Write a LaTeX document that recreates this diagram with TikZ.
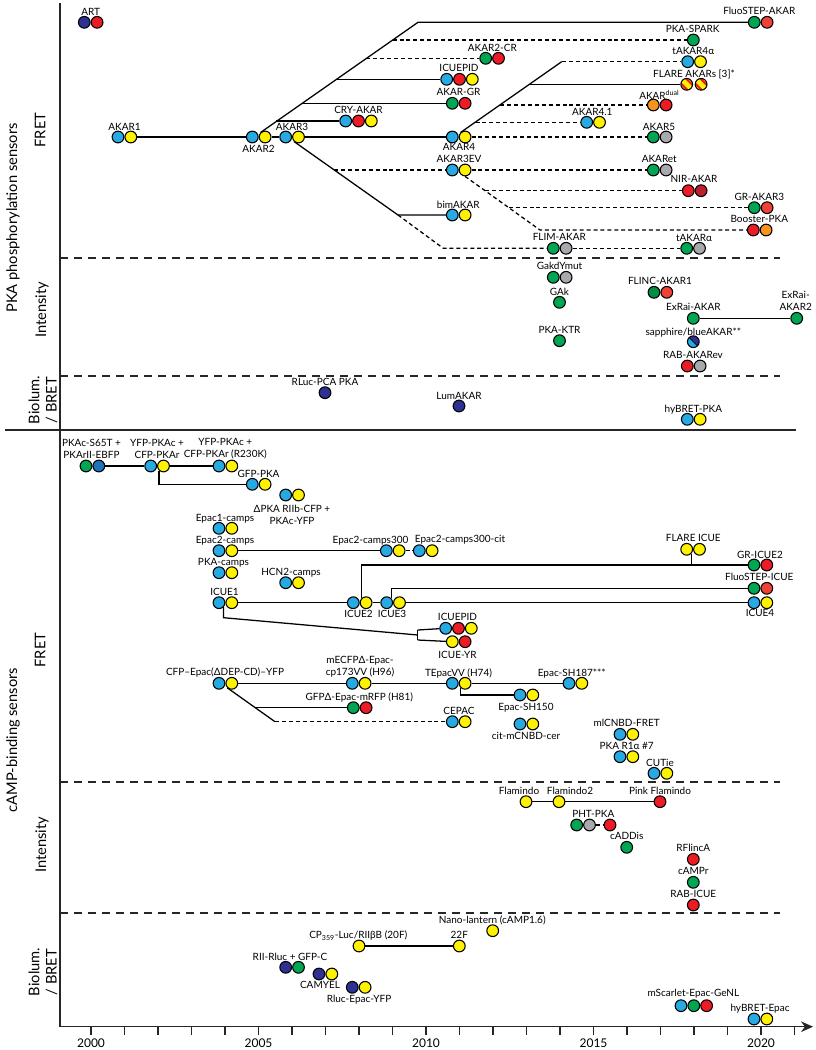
\documentclass[tikz,border=0pt]{standalone}
\usepackage{fontspec}
\setmainfont{Lato}
\usetikzlibrary{positioning,arrows.meta}

\definecolor{cfpc}{HTML}{27AAE1}
\definecolor{yfpc}{HTML}{FFF200}
\definecolor{rfpc}{HTML}{ED1C24}
\definecolor{gfpc}{HTML}{00A651}
\definecolor{dkgc}{HTML}{008C44}
\definecolor{lucc}{HTML}{2E3192}
\definecolor{dkfpc}{HTML}{A7A9AC}
\definecolor{ofpc}{HTML}{F7941D}
\definecolor{sfpc}{HTML}{EF4136}
\definecolor{mfpc}{HTML}{BE1E2D}
\definecolor{bfpc}{HTML}{1C75BC}

\begin{document}
\begin{tikzpicture}[
  x=0.75pt, y=-0.75pt,
  fp/.style={circle,draw,line width=0.8pt,minimum size=8.8pt,inner sep=0pt},
  cfp/.style={fp,fill=cfpc},
  yfp/.style={fp,fill=yfpc},
  rfp/.style={fp,fill=rfpc},
  gfp/.style={fp,fill=gfpc},
  dgfp/.style={fp,fill=dkgc},
  luc/.style={fp,fill=lucc},
  dkfp/.style={fp,fill=dkfpc},
  ofp/.style={fp,fill=ofpc},
  sfp/.style={fp,fill=sfpc},
  mfp/.style={fp,fill=mfpc},
  bfp/.style={fp,fill=bfpc},
  flare/.style={fp,fill=yfpc,path picture={
    \draw[rfpc,line width=1.5pt] ([shift={(1.9pt,1.9pt)}]path picture bounding box.north west) -- ([shift={(1.9pt,1.9pt)}]path picture bounding box.south east);
    \draw[rfpc,line width=1.5pt] ([shift={(-1.9pt,-1.9pt)}]path picture bounding box.north west) -- ([shift={(-1.9pt,-1.9pt)}]path picture bounding box.south east);}},
  sapph/.style={fp,fill=cfpc,path picture={
    \fill[lucc] (path picture bounding box.north west) -- (path picture bounding box.north east) -- (path picture bounding box.south east) -- cycle;
    \draw[line width=0.6pt] (path picture bounding box.north west) -- (path picture bounding box.south east);}},
  lbl/.style={font=\fontsize{7.5}{9}\selectfont,inner sep=0pt,text height=5.4pt,text depth=0pt},
  lbltwo/.style={font=\fontsize{7.5}{9}\selectfont,inner sep=0pt,align=center},
  cat/.style={font=\fontsize{11}{13}\selectfont,rotate=90,inner sep=0pt,align=center},
  yrlbl/.style={font=\fontsize{9}{10}\selectfont,inner sep=0pt},
  link/.style={line width=0.95pt},
  dlink/.style={link,dash pattern=on 3pt off 2.2pt},
  sep/.style={line width=0.9pt,black!85,dash pattern=on 6pt off 4.5pt},
  axis/.style={line width=0.9pt,black!85}
]
  \fill[white] (0,0) rectangle (816,1050);
  \useasboundingbox (0,0) rectangle (816,1050);

  % frame and time axis
  \coordinate (ytop) at (60,3);
  \coordinate (origin) at (60,1026.7);
  \coordinate (xend) at (813,1026.7);
  \draw[axis] (ytop) -- (origin);
  \draw[axis,-{Stealth[length=9pt,width=8pt]}] (origin) -- (xend);
  \foreach \i in {0,...,21}
    \draw[axis] ({91+\i*33.5},1026.7) -- ++(0,8);
  \foreach \yr in {2000,2005,2010,2015,2020}
    \node[yrlbl] (yr\yr) at ({91+(\yr-2000)*33.5},1043) {\yr};

  % section dividers
  \draw[sep] (60,258) -- (780,258);
  \draw[sep] (60,376) -- (780,376);
  \draw[axis] (5,430) -- (796,430);
  \draw[sep] (60,782) -- (780,782);
  \draw[sep] (60,913) -- (780,913);

  % category labels
  \node[cat] (pkacat) at (13,218) {PKA phosphorylation sensors};
  \node[cat] (pkafret) at (40,130) {FRET};
  \node[cat] (pkaint) at (42,310) {Intensity};
  \node[cat] (pkabio) at (43,400) {Biolum.\\/ BRET};
  \node[cat] (campcat) at (13,740) {cAMP-binding sensors};
  \node[cat] (campfret) at (40,650) {FRET};
  \node[cat] (campint) at (42,845) {Intensity};
  \node[cat] (campbio) at (43,972) {Biolum.\\/ BRET};

  % ---------------- PKA phosphorylation: FRET ----------------
  \node[luc] (art1) at (84.3,22.3) {};
  \node[rfp,right=0pt of art1] (art2) {};
  \node[lbl] (artt) at (90.7,11.5) {ART};

  \node[cfp] (akar1a) at (118,137) {};
  \node[yfp,right=0pt of akar1a] (akar1b) {};
  \node[lbl] (akar1t) at (124.5,126.5) {AKAR1};

  \node[cfp] (akar2a) at (252.3,137) {};
  \node[yfp,right=0pt of akar2a] (akar2b) {};
  \node[lbl] (akar2t) at (258.5,148.7) {AKAR2};

  \node[cfp] (akar3a) at (285.7,137) {};
  \node[yfp,right=0pt of akar3a] (akar3b) {};
  \node[lbl] (akar3t) at (292,126.5) {AKAR3};

  \node[cfp] (cry1) at (345.7,121) {};
  \node[rfp,right=0pt of cry1] (cry2) {};
  \node[yfp,right=0pt of cry2] (cry3) {};
  \node[lbl] (cryt) at (358.5,110) {CRY-AKAR};

  \node[gfp] (akgr1) at (452.3,103.3) {};
  \node[rfp,right=0pt of akgr1] (akgr2) {};
  \node[lbl] (akgrt) at (458.5,92.3) {AKAR-GR};

  \node[cfp] (icpid1) at (446.7,79.3) {};
  \node[rfp,right=0pt of icpid1] (icpid2) {};
  \node[yfp,right=0pt of icpid2] (icpid3) {};
  \node[lbl] (icpidt) at (459,67.7) {ICUEPID};

  \node[gfp] (akcr1) at (485.7,58.3) {};
  \node[rfp,right=0pt of akcr1] (akcr2) {};
  \node[lbl] (akcrt) at (492.3,48.3) {AKAR2-CR};

  \node[gfp] (spark) at (693.3,40) {};
  \node[lbl] (sparkt) at (692.7,29) {PKA-SPARK};

  \node[gfp] (fstep1) at (754.3,22.3) {};
  \node[sfp,right=0pt of fstep1] (fstep2) {};
  \node[lbl] (fstept) at (759.3,10.7) {FluoSTEP-AKAR};

  \node[cfp] (akar4a) at (452.3,137) {};
  \node[yfp,right=0pt of akar4a] (akar4b) {};
  \node[lbl] (akar4t) at (459,146.7) {AKAR4};

  \node[cfp] (ak3ev1) at (452.3,170) {};
  \node[yfp,right=0pt of ak3ev1] (ak3ev2) {};
  \node[lbl] (ak3evt) at (459,159.3) {AKAR3EV};

  \node[cfp] (bim1) at (452.3,215) {};
  \node[yfp,right=0pt of bim1] (bim2) {};
  \node[lbl] (bimt) at (458.3,205) {bimAKAR};

  \node[cfp] (tak4a1) at (687.7,61.7) {};
  \node[yfp,right=0pt of tak4a1] (tak4a2) {};
  \node[lbl] (tak4at) at (693.3,51) {tAKAR4α};

  \node[flare] (flare1) at (686.7,84.3) {};
  \node[flare,right=1.2pt of flare1] (flare2) {};
  \node[lbl] (flaret) at (694,74) {FLARE AKARs [3]*};

  \node[ofp] (akdual1) at (653.3,105) {};
  \node[rfp,right=0pt of akdual1] (akdual2) {};
  \node[lbl] (akdualt) at (659.3,95.7) {AKAR\textsuperscript{dual}};

  \node[cfp] (ak41a) at (586.7,122.3) {};
  \node[yfp,right=0pt of ak41a] (ak41b) {};
  \node[lbl] (ak41t) at (592.3,111.7) {AKAR4.1};

  \node[gfp] (akar5a) at (653.3,137) {};
  \node[dkfp,right=0pt of akar5a] (akar5b) {};
  \node[lbl] (akar5t) at (659,126.7) {AKAR5};

  \node[gfp] (aket1) at (653.3,170) {};
  \node[dkfp,right=0pt of aket1] (aket2) {};
  \node[lbl] (akett) at (659.3,159.3) {AKARet};

  \node[rfp] (nir1) at (688.3,190.7) {};
  \node[mfp,right=0pt of nir1] (nir2) {};
  \node[lbl] (nirt) at (694,179) {NIR-AKAR};

  \node[gfp] (grak31) at (754.3,207.7) {};
  \node[sfp,right=0pt of grak31] (grak32) {};
  \node[lbl] (grak3t) at (759.3,197.3) {GR-AKAR3};

  \node[rfp] (boost1) at (753.3,230) {};
  \node[ofp,right=0pt of boost1] (boost2) {};
  \node[lbl] (boostt) at (759.3,219.3) {Booster-PKA};

  \node[gfp] (flim1) at (553.3,248.3) {};
  \node[dkfp,right=0pt of flim1] (flim2) {};
  \node[lbl] (flimt) at (559.3,237.3) {FLIM-AKAR};

  \node[gfp] (takar1) at (686.7,248.3) {};
  \node[dkfp,right=0pt of takar1] (takar2) {};
  \node[lbl] (takart) at (694,238.3) {tAKARα};

  % lineage
  \draw[link] (akar1b) -- (akar2a);
  \draw[link] (akar2b) -- (akar3a);
  \draw[link] (akar3b) -- (akar4a);

  \coordinate (k1) at (276.1,121);
  \coordinate (k2) at (301.5,103.3);
  \coordinate (k3) at (336.1,79.3);
  \coordinate (k4) at (366.3,58.3);
  \coordinate (k5) at (392.6,40);
  \coordinate (k6) at (418,22.3);
  \draw[link] (akar2b.north west) -- (k6) -- (fstep1);
  \draw[link] (k1) -- (cry1);
  \draw[link] (k2) -- (akgr1);
  \draw[link] (k3) -- (icpid1);
  \draw[dlink] (k4) -- (akcr1);
  \draw[dlink] (k5) -- (spark);

  \coordinate (m0) at (334,170);
  \coordinate (m1) at (398,215);
  \coordinate (m2) at (443.3,248.3);
  \draw[link] (akar3b.south west) -- (m1) -- (bim1);
  \draw[dlink] (m0) -- (ak3ev1);
  \draw[dlink] (m1) -- (m2) -- (flim1);
  \draw[dlink] (flim2) -- (takar1);

  \coordinate (n1) at (475.5,122.3);
  \coordinate (n2) at (500.1,105);
  \coordinate (n3) at (529.5,84.3);
  \coordinate (n4) at (561.7,61.7);
  \draw[link] (akar4b.north west) -- (n4);
  \draw[dlink] (n4) -- (tak4a1);
  \draw[dlink] (n1) -- (ak41a);
  \draw[dlink] (n2) -- (akdual1);
  \draw[link] (n3) -- (flare1);
  \draw[dlink] (akar4b) -- (akar5a);

  \coordinate (q1) at (484.9,190.7);
  \coordinate (q2) at (508.7,207.7);
  \coordinate (q3) at (540,230);
  \draw[dlink] (ak3ev2) -- (aket1);
  \draw[dlink] (ak3ev2.south) -- (q3) -- (boost1);
  \draw[dlink] (q1) -- (nir1);
  \draw[dlink] (q2) -- (grak31);

  % ---------------- PKA phosphorylation: intensity ----------------
  \node[gfp] (gakd1) at (553.3,277.3) {};
  \node[dkfp,right=0pt of gakd1] (gakd2) {};
  \node[lbl] (gakdt) at (559.5,265.7) {GakdYmut};

  \node[gfp] (gak) at (559.5,302.3) {};
  \node[lbl] (gakt) at (559.5,291.7) {GAk};

  \node[gfp] (ktr) at (559.5,340.7) {};
  \node[lbl] (ktrt) at (559.5,330) {PKA-KTR};

  \node[dgfp] (flinc1) at (654,292.3) {};
  \node[sfp,right=0pt of flinc1] (flinc2) {};
  \node[lbl] (flinct) at (660,281) {FLINC-AKAR1};

  \node[gfp] (exrai) at (693.3,318.3) {};
  \node[lbl] (exrait) at (693.3,306.7) {ExRai-AKAR};
  \node[gfp] (exrai2) at (796.7,318.3) {};
  \node[lbltwo] (exrai2t) at (795.7,300.5) {ExRai-\\AKAR2};
  \draw[link] (exrai) -- (exrai2);

  \node[sapph] (sapph) at (693.3,341.7) {};
  \node[lbl] (sappht) at (693.3,331.5) {sapphire/blueAKAR**};

  \node[rfp] (rabak1) at (687.3,366) {};
  \node[dkfp,right=0pt of rabak1] (rabak2) {};
  \node[lbl] (rabakt) at (693,355) {RAB-AKARev};

  % ---------------- PKA phosphorylation: bioluminescence ----------------
  \node[luc] (rlucpca) at (325,392.7) {};
  \node[lbl] (rlucpcat) at (325,381.7) {RLuc-PCA PKA};

  \node[luc] (lumakar) at (459,406) {};
  \node[lbl] (lumakart) at (459,395.7) {LumAKAR};

  \node[cfp] (hybp1) at (687.3,419.3) {};
  \node[yfp,right=0pt of hybp1] (hybp2) {};
  \node[lbl] (hybpt) at (693.3,408.7) {hyBRET-PKA};

  % ---------------- cAMP binding: FRET ----------------
  \node[gfp] (s65a) at (86,466) {};
  \node[bfp,right=0pt of s65a] (s65b) {};
  \node[lbltwo] (s65t) at (91.5,448.5) {PKAc-S65T +\\PKArII-EBFP};

  \node[cfp] (ypka1) at (150.7,466) {};
  \node[yfp,right=0pt of ypka1] (ypka2) {};
  \node[lbltwo] (ypkat) at (157,448.5) {YFP-PKAc +\\CFP-PKAr};

  \node[cfp] (ypkm1) at (219,466) {};
  \node[yfp,right=0pt of ypkm1] (ypkm2) {};
  \node[lbltwo] (ypkmt) at (225.3,448.5) {YFP-PKAc +\\CFP-PKAr (R230K)};

  \node[cfp] (gpka1) at (252.3,484.3) {};
  \node[yfp,right=0pt of gpka1] (gpka2) {};
  \node[lbl] (gpkat) at (258.5,474.3) {GFP-PKA};

  \node[cfp] (dpka1) at (285.7,495) {};
  \node[yfp,right=0pt of dpka1] (dpka2) {};
  \node[lbltwo] (dpkat) at (292,514.7) {ΔPKA RIIb-CFP +\\PKAc-YFP};

  \draw[link] (s65b) -- (ypka1);
  \draw[link] (ypka2) -- (ypkm1);
  \draw[link] (ypka2.south west) |- (gpka1);

  \node[cfp] (ep1a) at (219,528.3) {};
  \node[yfp,right=0pt of ep1a] (ep1b) {};
  \node[lbl] (ep1t) at (225,518.3) {Epac1-camps};

  \node[cfp] (ep2a) at (219,550.7) {};
  \node[yfp,right=0pt of ep2a] (ep2b) {};
  \node[lbl] (ep2t) at (225,540) {Epac2-camps};

  \node[cfp] (ep300a) at (386.3,550.7) {};
  \node[yfp,right=0pt of ep300a] (ep300b) {};
  \node[lbl] (ep300t) at (370.5,540) {Epac2-camps300};

  \node[cfp] (epcit1) at (419.3,550.7) {};
  \node[yfp,right=0pt of epcit1] (epcit2) {};
  \node[lbl] (epcitt) at (460,539.3) {Epac2-camps300-cit};

  \draw[link] (ep2b) -- (ep300a);
  \draw[dlink] (ep300b) -- (epcit1);

  \node[cfp] (pkcamp1) at (219,572.7) {};
  \node[yfp,right=0pt of pkcamp1] (pkcamp2) {};
  \node[lbl] (pkcampt) at (223.5,561.7) {PKA-camps};

  \node[cfp] (hcn1) at (285.7,582.7) {};
  \node[yfp,right=0pt of hcn1] (hcn2) {};
  \node[lbl] (hcnt) at (291,571.7) {HCN2-camps};

  \node[cfp] (icue1a) at (219,602.7) {};
  \node[yfp,right=0pt of icue1a] (icue1b) {};
  \node[lbl] (icue1t) at (224.5,592.3) {ICUE1};

  \node[cfp] (icue2a) at (353.3,602.7) {};
  \node[yfp,right=0pt of icue2a] (icue2b) {};
  \node[lbl] (icue2t) at (358.5,614.3) {ICUE2};

  \node[cfp] (icue3a) at (386.7,602.7) {};
  \node[yfp,right=0pt of icue3a] (icue3b) {};
  \node[lbl] (icue3t) at (392,614.3) {ICUE3};

  \node[cfp] (icue4a) at (754,602.7) {};
  \node[yfp,right=0pt of icue4a] (icue4b) {};
  \node[lbl] (icue4t) at (760,613.3) {ICUE4};

  \node[gfp] (gricue1) at (754,565) {};
  \node[rfp,right=0pt of gricue1] (gricue2) {};
  \node[lbl] (gricuet) at (760,555) {GR-ICUE2};

  \node[yfp] (ficue1) at (686.7,549.3) {};
  \node[yfp,right=0pt of ficue1] (ficue2) {};
  \node[lbl] (ficuet) at (693.3,538.3) {FLARE ICUE};

  \node[gfp] (fsicue1) at (754,588.3) {};
  \node[sfp,right=0pt of fsicue1] (fsicue2) {};
  \node[lbl] (fsicuet) at (759.3,577.3) {FluoSTEP-ICUE};

  \node[cfp] (cpid1) at (445.7,628.3) {};
  \node[rfp,right=0pt of cpid1] (cpid2) {};
  \node[yfp,right=0pt of cpid2] (cpid3) {};
  \node[lbl] (cpidt) at (457.5,616.7) {ICUEPID};

  \node[yfp] (icyr1) at (452.3,641.7) {};
  \node[rfp,right=0pt of icyr1] (icyr2) {};
  \node[lbl] (icyrt) at (457.5,655) {ICUE-YR};

  \draw[link] (icue1b) -- (icue2a);
  \draw[link] (icue2b) -- (icue3a);
  \draw[link] (icue3b) -- (icue4a);
  \draw[link] (icue2b.north west) |- (gricue1);
  \draw[link] (ficue1.south east) -- (ficue1.south east |- gricue1);
  \draw[link] (icue3a.north east) |- (fsicue1);

  \coordinate (f0) at (223.6,617.7);
  \coordinate (f1) at (417.7,635);
  \coordinate (f2) at (417.7,630);
  \coordinate (f3) at (417.7,640);
  \draw[link] (icue1a.south east) |- (f0) -- (f1);
  \draw[link] (f2) -- (f3);
  \draw[link] (f2) -- (cpid1);
  \draw[link] (f3) -- (icyr1);

  \node[cfp] (cfpep1) at (219,683.3) {};
  \node[yfp,right=0pt of cfpep1] (cfpep2) {};
  \node[lbl] (cfpept) at (225,671.7) {CFP–Epac(ΔDEP-CD)–YFP};

  \node[cfp] (mecfp1) at (352.3,683.3) {};
  \node[yfp,right=0pt of mecfp1] (mecfp2) {};
  \node[lbltwo] (mecfpt) at (360,666.5) {mECFPΔ-Epac-\\cp173VV (H96)};

  \node[cfp] (tepac1) at (452.3,683.3) {};
  \node[yfp,right=0pt of tepac1] (tepac2) {};
  \node[lbl] (tepact) at (458.5,673.3) {TEpacVV (H74)};

  \node[cfp] (sh187a) at (569,683.3) {};
  \node[yfp,right=0pt of sh187a] (sh187b) {};
  \node[lbl] (sh187t) at (571.7,673.3) {Epac-SH187***};

  \node[cfp] (sh150a) at (520,695) {};
  \node[yfp,right=0pt of sh150a] (sh150b) {};
  \node[lbl] (sh150t) at (526,706.7) {Epac-SH150};

  \node[gfp] (gdep1) at (353.3,707.7) {};
  \node[rfp,right=0pt of gdep1] (gdep2) {};
  \node[lbl] (gdept) at (359.3,697.3) {GFPΔ-Epac-mRFP (H81)};

  \node[cfp] (cepac1) at (452.3,721.7) {};
  \node[yfp,right=0pt of cepac1] (cepac2) {};
  \node[lbl] (cepact) at (459,711) {CEPAC};

  \draw[link] (cfpep2) -- (mecfp1);
  \draw[link] (mecfp2) -- (tepac1);
  \draw[link] (tepac2) -- (sh187a);
  \draw[link] (tepac2.south west) |- (sh150a);

  \coordinate (g1) at (254.9,707.7);
  \coordinate (g2) at (275,721.7);
  \draw[link] (cfpep2.south west) -- (g2);
  \draw[dlink] (g2) -- (cepac1);
  \draw[link] (g1) -- (gdep1);

  \node[cfp] (citm1) at (520,724) {};
  \node[yfp,right=0pt of citm1] (citm2) {};
  \node[lbl] (citmt) at (526,736) {cit-mCNBD-cer};

  \node[cfp] (mlcn1) at (620,734.3) {};
  \node[yfp,right=0pt of mlcn1] (mlcn2) {};
  \node[lbl] (mlcnt) at (626.7,723.3) {mlCNBD-FRET};

  \node[cfp] (r1a1) at (620,756.7) {};
  \node[yfp,right=0pt of r1a1] (r1a2) {};
  \node[lbl] (r1at) at (626.7,746) {PKA R1α \#7};

  \node[cfp] (cutie1) at (654,773.3) {};
  \node[yfp,right=0pt of cutie1] (cutie2) {};
  \node[lbl] (cutiet) at (660,763.3) {CUTie};

  % ---------------- cAMP binding: intensity ----------------
  \node[yfp] (flam) at (526,801.7) {};
  \node[lbl] (flamt) at (519,790.7) {Flamindo};
  \node[yfp] (flam2) at (559,801.7) {};
  \node[lbl] (flam2t) at (570,790.7) {Flamindo2};
  \node[rfp] (pflam) at (660,801.7) {};
  \node[lbl] (pflamt) at (660,790.7) {Pink Flamindo};
  \draw[link] (flam) -- (flam2);
  \draw[link] (flam2) -- (pflam);

  \node[gfp] (pht1) at (576.7,825) {};
  \node[dkfp,right=0pt of pht1] (pht2) {};
  \node[rfp] (pht3) at (610,825) {};
  \node[lbl] (phtt) at (593.3,814.3) {PHT-PKA};
  \draw[dlink] (pht2) -- (pht3);

  \node[gfp] (caddis) at (626.7,847.3) {};
  \node[lbl] (caddist) at (626.7,836) {cADDis};

  \node[rfp] (rflinca) at (693.3,859.3) {};
  \node[lbl] (rflincat) at (693.3,848.3) {RFlincA};

  \node[gfp] (campr) at (693.3,882.3) {};
  \node[lbl] (camprt) at (693.3,871) {cAMPr};

  \node[rfp] (rabicue) at (693.3,905) {};
  \node[lbl] (rabicuet) at (693.3,894) {RAB-ICUE};

  % ---------------- cAMP binding: bioluminescence ----------------
  \node[yfp] (cp359) at (359,946) {};
  \node[lbl] (cp359t) at (358.3,935) {CP\textsubscript{359}-Luc/RIIβB (20F)};
  \node[yfp] (f22) at (459.3,946) {};
  \node[lbl] (f22t) at (459.3,935) {22F};
  \draw[link] (cp359) -- (f22);

  \node[yfp] (nano) at (492.7,930.7) {};
  \node[lbl] (nanot) at (492.3,920) {Nano-lantern (cAMP1.6)};

  \node[luc] (riiluc1) at (285.7,967.3) {};
  \node[gfp,right=0pt of riiluc1] (riiluc2) {};
  \node[lbl] (riiluct) at (290,956.7) {RII-Rluc + GFP-C};

  \node[luc] (camyel1) at (319,974) {};
  \node[yfp,right=0pt of camyel1] (camyel2) {};
  \node[lbl] (camyelt) at (320,985) {CAMYEL};

  \node[luc] (rlep1) at (352.3,987.3) {};
  \node[yfp,right=0pt of rlep1] (rlep2) {};
  \node[lbl] (rlept) at (359,999) {Rluc-Epac-YFP};

  \node[cfp] (msc1) at (681,1005.7) {};
  \node[gfp,right=0pt of msc1] (msc2) {};
  \node[rfp,right=0pt of msc2] (msc3) {};
  \node[lbl] (msct) at (693.3,992.7) {mScarlet-Epac-GeNL};

  \node[cfp] (hybe1) at (754,1019) {};
  \node[yfp,right=0pt of hybe1] (hybe2) {};
  \node[lbl] (hybet) at (760,1008.3) {hyBRET-Epac};
\end{tikzpicture}
\end{document}
